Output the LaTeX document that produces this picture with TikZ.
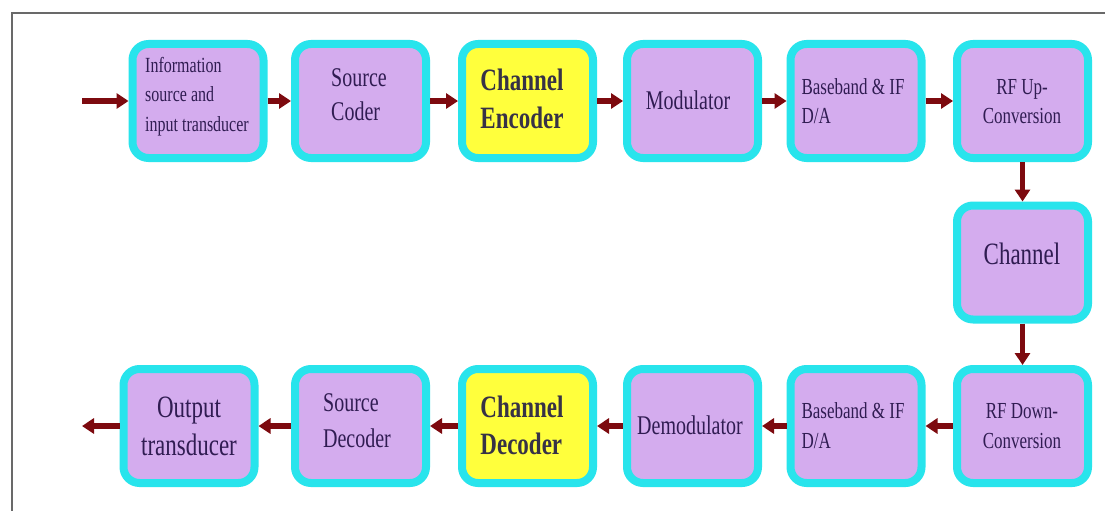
\documentclass[tikz,border=0pt]{standalone}
\usepackage{fontspec}
\setmainfont{Liberation Serif}
\usepackage{graphicx}
\usetikzlibrary{arrows.meta}
\definecolor{boxfill}{RGB}{212,172,238}
\definecolor{boxedge}{RGB}{40,228,236}
\definecolor{yel}{RGB}{255,255,60}
\definecolor{arrowc}{RGB}{125,10,15}
\definecolor{txt}{RGB}{48,28,82}
\definecolor{txtb}{RGB}{55,50,70}
\definecolor{framec}{RGB}{105,105,105}
\newcommand\tallc[1]{\scalebox{1}[1.35]{\begin{tabular}{@{}c@{}}#1\end{tabular}}}
\newcommand\talll[1]{\scalebox{1}[1.35]{\begin{tabular}{@{}l@{}}#1\end{tabular}}}
\begin{document}
\begin{tikzpicture}[x=1pt,y=-1pt,
  blk/.style={draw=boxedge, line width=8pt, fill=boxfill, rounded corners=16pt,
    minimum width=131pt, minimum height=114pt, inner sep=0pt, outer sep=4pt},
  yblk/.style={blk, fill=yel},
  lbl/.style={text=txt, inner sep=0pt},
  lblb/.style={text=txtb, inner sep=0pt},
  arr/.style={draw=arrowc, line width=5.5pt, -{Triangle[length=12pt,width=15pt]}}
]
\useasboundingbox (0,0) rectangle (1105,511);
\fill[white] (0,0) rectangle (1105,511);
\draw[framec, line width=2pt] (12,511) -- (12,13) -- (1105,13);

% top row
\node[blk]  (b1) at (198,101) {};
\node[blk]  (b2) at (360.5,101) {};
\node[yblk] (b3) at (527.5,101) {};
\node[blk]  (b4) at (692.5,101) {};
\node[blk]  (b5) at (856,101) {};
\node[blk]  (b6) at (1022.5,101) {};
% channel
\node[blk]  (ch) at (1022.5,262.5) {};
% bottom row
\node[blk]  (c6) at (1022.5,426) {};
\node[blk]  (c5) at (856,426) {};
\node[blk]  (c4) at (692.5,426) {};
\node[yblk] (c3) at (527.5,426) {};
\node[blk]  (c2) at (360.5,426) {};
\node[blk]  (c1) at (189,426) {};

% labels
\node[lbl, font=\fontsize{16}{22}\selectfont] (t1) at (197,96) {\talll{Information\\source and\\input transducer}};
\node[lbl, font=\fontsize{20}{25}\selectfont] (t2) at (359,97) {\talll{Source\\Coder}};
\node[lblb, font=\fontsize{23}{28}\selectfont\bfseries] (t3) at (522,102) {\talll{Channel\\Encoder}};
\node[lbl, font=\fontsize{20}{25}\selectfont] (t4) at (688,103) {\tallc{Modulator}};
\node[lbl, font=\fontsize{17}{22}\selectfont] (t5) at (853,103) {\talll{Baseband \& IF\\D/A}};
\node[lbl, font=\fontsize{17}{22}\selectfont] (t6) at (1022,103) {\tallc{RF Up-\\Conversion}};
\node[lbl, font=\fontsize{23}{28}\selectfont] (tc) at (1022,257) {\tallc{Channel}};
\node[lbl, font=\fontsize{17}{22}\selectfont] (u6) at (1022,427.5) {\tallc{RF Down-\\Conversion}};
\node[lbl, font=\fontsize{17}{22}\selectfont] (u5) at (853,427.5) {\talll{Baseband \& IF\\D/A}};
\node[lbl, font=\fontsize{20}{25}\selectfont] (u4) at (690,428) {\tallc{Demodulator}};
\node[lblb, font=\fontsize{23}{28}\selectfont\bfseries] (u3) at (522,428.5) {\talll{Channel\\Decoder}};
\node[lbl, font=\fontsize{20}{26}\selectfont] (u2) at (357,422.5) {\talll{Source\\Decoder}};
\node[lbl, font=\fontsize{23}{28}\selectfont] (u1) at (189,429) {\tallc{Output\\transducer}};

% connectors
\coordinate (in) at (82,101);
\coordinate (out) at (82,426);
\draw[arr] (in) -- (b1);
\draw[arr] (b1) -- (b2);
\draw[arr] (b2) -- (b3);
\draw[arr] (b3) -- (b4);
\draw[arr] (b4) -- (b5);
\draw[arr] (b5) -- (b6);
\draw[arr] (b6) -- (ch);
\draw[arr] (ch) -- (c6);
\draw[arr] (c6) -- (c5);
\draw[arr] (c5) -- (c4);
\draw[arr] (c4) -- (c3);
\draw[arr] (c3) -- (c2);
\draw[arr] (c2) -- (c1);
\draw[arr] (c1) -- (out);
\end{tikzpicture}
\end{document}
